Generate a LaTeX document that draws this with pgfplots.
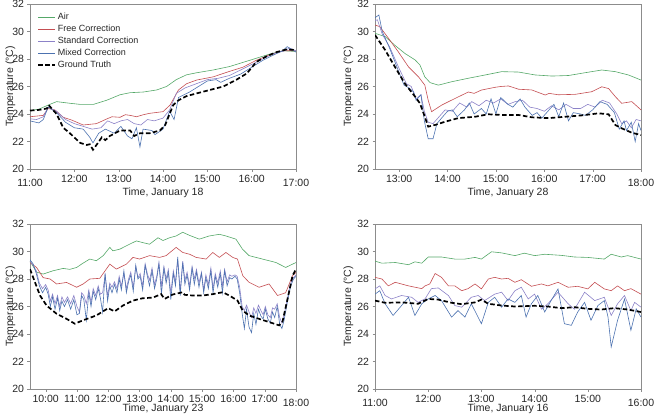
\documentclass[border=0pt]{standalone}
\usepackage{pgfplots}
\pgfplotsset{compat=1.18}
\usepackage{fontspec}
\setmainfont{Liberation Sans}
\definecolor{cair}{RGB}{85,168,104}
\definecolor{cfree}{RGB}{196,78,82}
\definecolor{cstd}{RGB}{140,130,200}
\definecolor{cmix}{RGB}{76,114,176}
\newcommand\lo[1]{\raisebox{-4pt}[\height][\depth]{#1}}
\pgfplotsset{
  panel/.style={
    width=266pt, height=165pt, scale only axis,
    ymin=20, ymax=32, ytick={20,22,...,32},
    axis line style={black!45}, tick style={black!45},
    tick align=outside, major tick length=2.5pt,
    tick pos=left,
    ticklabel style={font=\fontsize{10.5}{12}\selectfont, text=black!85},
    /pgf/number format/assume math mode=true,
    label style={font=\fontsize{10.5}{12}\selectfont, text=black!85},
    ylabel={Temperature (°C)},
    ylabel style={yshift=-3pt},
    xlabel style={yshift=1pt},
    anchor=south west,
  },
  leftpanel/.style={ylabel style={yshift=-7pt}},
  bottompanel/.style={xlabel style={yshift=4.5pt}},
  air/.style={cair, line width=0.6pt},
  free/.style={cfree, line width=0.6pt},
  std/.style={cstd, line width=0.6pt},
  mix/.style={cmix, line width=0.6pt},
  gt/.style={black, line width=1.7pt, dash pattern=on 4.5pt off 2.5pt},
}
\begin{document}
\begin{tikzpicture}
\useasboundingbox (0,0) rectangle (654pt,-415pt);
% Panel 1
\begin{axis}[panel, leftpanel, at={(30pt,-169pt)},
  xmin=11, xmax=17, xtick={11,...,17},
  xticklabels={\lo{11:00},12:00,13:00,14:00,15:00,16:00,\lo{17:00}},
  xlabel={Time, January 18},
  legend style={draw=none, fill=none, at={(0.015,0.97)}, anchor=north west,
    font=\fontsize{9}{10.5}\selectfont, row sep=0pt, text=black!85},
  legend cell align=left]
\addplot[air] coordinates {(11.0,24.25) (11.2,24.35) (11.41,24.65) (11.6,24.9) (11.9,24.78) (12.13,24.7) (12.43,24.7) (12.73,25.0) (13.03,25.4) (13.26,25.55) (13.56,25.6) (13.86,25.75) (14.08,26.0) (14.3,26.5) (14.53,26.85) (14.76,27.0) (15.13,27.2) (15.5,27.45) (15.8,27.75) (16.1,28.05) (16.4,28.35) (16.7,28.6) (17.0,28.55)};
\addlegendentry{Air}
\addplot[free] coordinates {(11.0,23.8) (11.15,23.85) (11.3,23.9) (11.41,24.4) (11.56,24.3) (11.75,23.76) (11.94,23.56) (12.2,23.2) (12.5,23.3) (12.73,23.64) (12.85,23.8) (13.03,23.76) (13.15,23.95) (13.26,23.9) (13.4,23.8) (13.56,23.95) (13.7,24.05) (14.0,24.17) (14.16,24.65) (14.35,25.75) (14.53,26.2) (14.76,26.47) (15.13,26.7) (15.5,27.1) (15.8,27.4) (16.1,27.9) (16.4,28.3) (16.7,28.6) (17.0,28.6)};
\addlegendentry{Free Correction}
\addplot[std] coordinates {(11.0,23.65) (11.15,23.6) (11.3,23.8) (11.41,24.5) (11.6,24.2) (11.8,23.6) (12.0,23.3) (12.2,23.1) (12.4,22.9) (12.6,23.0) (12.75,23.5) (12.9,23.3) (13.05,23.5) (13.2,23.6) (13.35,23.3) (13.5,23.2) (13.65,23.6) (13.8,23.5) (14.0,23.7) (14.15,24.3) (14.3,25.5) (14.5,25.9) (14.75,26.2) (15.0,26.5) (15.25,26.6) (15.5,26.8) (15.75,27.2) (16.0,27.6) (16.25,28.0) (16.5,28.4) (16.75,28.6) (16.85,28.8) (17.0,28.6)};
\addlegendentry{Standard Correction}
\addplot[mix] coordinates {(11.0,23.5) (11.2,23.35) (11.3,23.6) (11.41,24.5) (11.6,24.1) (11.8,23.4) (12.0,23.0) (12.2,22.9) (12.35,22.3) (12.42,21.9) (12.55,22.6) (12.7,22.9) (12.9,22.6) (13.05,23.1) (13.2,22.4) (13.3,22.2) (13.4,23.0) (13.48,21.6) (13.55,22.9) (13.75,22.8) (13.82,22.5) (14.0,22.9) (14.15,24.2) (14.25,23.6) (14.35,25.2) (14.6,25.6) (14.8,26.0) (15.0,26.4) (15.2,26.5) (15.3,26.3) (15.5,26.6) (15.75,26.9) (16.0,27.4) (16.25,27.9) (16.5,28.3) (16.7,28.6) (16.8,28.9) (17.0,28.5)};
\addlegendentry{Mixed Correction}
\addplot[gt] coordinates {(11.0,24.25) (11.2,24.3) (11.38,24.4) (11.42,24.65) (11.6,24.0) (11.75,23.0) (11.9,22.6) (12.13,21.9) (12.28,21.75) (12.35,21.8) (12.42,21.4) (12.5,21.75) (12.62,22.3) (12.7,22.1) (12.8,22.4) (13.03,22.8) (13.26,22.8) (13.35,22.4) (13.48,22.6) (13.7,22.6) (13.93,22.8) (14.05,23.2) (14.23,24.65) (14.35,25.0) (14.53,25.3) (14.76,25.5) (15.06,25.75) (15.36,26.0) (15.66,26.5) (15.89,26.95) (16.11,27.8) (16.34,28.2) (16.56,28.5) (16.79,28.7) (17.0,28.65)};
\addlegendentry{Ground Truth}
\end{axis}
% Panel 2
\begin{axis}[panel, at={(375pt,-169pt)},
  xmin=12.5, xmax=18, xtick={13,...,18},
  xticklabels={13:00,14:00,15:00,16:00,17:00,\lo{18:00}},
  xlabel={Time, January 28}]
\addplot[air] coordinates {(12.5,29.87) (12.71,29.63) (12.91,29.0) (13.12,28.4) (13.33,27.93) (13.43,27.56) (13.53,26.7) (13.64,26.28) (13.81,26.1) (14.09,26.35) (14.43,26.6) (14.78,26.84) (15.12,27.08) (15.47,27.05) (15.81,26.84) (16.16,26.76) (16.5,26.8) (16.84,27.0) (17.19,27.2) (17.47,27.08) (17.74,26.84) (18.0,26.47)};
\addplot[free] coordinates {(12.5,30.47) (12.6,30.35) (12.78,29.5) (12.98,28.53) (13.19,27.44) (13.4,26.7) (13.53,26.1) (13.6,25.0) (13.67,24.17) (13.88,24.65) (14.16,25.14) (14.43,25.6) (14.55,25.5) (14.7,25.74) (14.98,25.94) (15.1,26.0) (15.26,26.04) (15.47,25.8) (15.74,25.75) (16.02,25.38) (16.1,25.5) (16.29,25.4) (16.64,25.43) (16.98,25.62) (17.19,25.98) (17.33,25.85) (17.47,25.26) (17.6,24.78) (17.81,24.9) (18.0,24.3)};
\addplot[std] coordinates {(12.5,30.8) (12.55,30.85) (12.65,29.8) (12.8,28.9) (13.0,27.3) (13.15,26.2) (13.25,26.0) (13.35,25.1) (13.45,25.4) (13.52,24.2) (13.6,23.4) (13.7,23.3) (13.8,23.7) (13.95,24.3) (14.1,24.2) (14.25,24.8) (14.4,24.5) (14.5,24.9) (14.65,24.6) (14.8,25.0) (14.95,24.8) (15.1,25.1) (15.25,24.7) (15.4,24.9) (15.55,25.0) (15.7,24.5) (15.85,24.4) (16.0,24.2) (16.15,24.6) (16.3,24.3) (16.45,24.7) (16.6,24.4) (16.75,24.4) (16.9,24.7) (17.05,24.5) (17.2,25.0) (17.35,24.8) (17.5,24.0) (17.6,23.3) (17.7,23.5) (17.8,23.0) (17.9,23.6) (18.0,23.5)};
\addplot[mix] coordinates {(12.5,31.0) (12.58,31.2) (12.65,30.0) (12.8,28.8) (13.0,27.0) (13.1,26.1) (13.2,25.9) (13.3,25.6) (13.35,25.0) (13.45,25.4) (13.52,23.5) (13.6,22.2) (13.7,22.2) (13.78,23.3) (13.9,23.8) (14.0,24.2) (14.1,24.3) (14.2,23.8) (14.35,24.3) (14.45,24.8) (14.55,24.0) (14.7,24.4) (14.8,24.0) (14.9,25.1) (15.0,24.0) (15.1,25.2) (15.25,24.7) (15.35,24.5) (15.5,25.1) (15.6,24.5) (15.75,23.9) (15.85,24.1) (15.95,23.7) (16.05,24.1) (16.2,24.7) (16.3,23.8) (16.4,24.8) (16.5,23.5) (16.6,24.1) (16.75,24.0) (16.85,23.9) (17.0,24.3) (17.15,24.9) (17.3,24.7) (17.45,24.1) (17.55,22.9) (17.65,23.5) (17.7,22.8) (17.8,23.4) (17.88,22.0) (17.95,23.3) (18.0,22.8)};
\addplot[gt] coordinates {(12.5,29.75) (12.71,28.65) (12.91,27.44) (13.12,26.2) (13.33,25.26) (13.43,24.77) (13.53,23.8) (13.6,23.08) (13.74,23.2) (13.95,23.44) (14.22,23.7) (14.57,23.8) (14.84,23.98) (15.12,23.93) (15.47,23.93) (15.74,23.76) (16.09,23.7) (16.43,23.8) (16.78,23.9) (17.12,24.05) (17.33,23.98) (17.47,23.2) (17.6,22.96) (17.81,22.64) (18.0,22.47)};
\end{axis}
% Panel 3
\begin{axis}[panel, leftpanel, bottompanel, at={(30pt,-389pt)},
  xmin=9.5, xmax=18, xtick={10,...,18},
  xticklabels={10:00,11:00,12:00,13:00,14:00,15:00,16:00,17:00,\lo{18:00}},
  xlabel={Time, January 23}]
\addplot[air] coordinates {(9.5,29.3) (9.71,28.5) (9.92,28.36) (10.24,28.6) (10.56,28.77) (10.77,28.7) (10.99,28.84) (11.2,29.16) (11.41,29.45) (11.62,29.33) (11.84,29.7) (12.05,30.3) (12.15,30.05) (12.37,30.17) (12.68,30.53) (12.9,30.77) (13.1,30.65) (13.32,30.53) (13.59,31.0) (13.75,30.8) (13.96,31.0) (14.17,31.13) (14.38,31.4) (14.6,31.17) (14.91,30.9) (15.23,31.13) (15.55,31.25) (15.76,31.13) (16.08,30.9) (16.29,30.17) (16.5,29.7) (16.93,29.45) (17.36,29.2) (17.67,28.84) (18.0,29.2)};
\addplot[free] coordinates {(9.5,29.2) (9.71,28.84) (9.92,28.1) (10.14,28.0) (10.35,27.64) (10.67,27.75) (10.99,27.4) (11.2,27.64) (11.41,28.0) (11.73,28.05) (12.05,29.08) (12.26,28.72) (12.58,29.08) (12.79,29.57) (13.0,29.45) (13.32,29.7) (13.64,29.57) (13.85,29.7) (14.17,30.3) (14.38,29.93) (14.6,29.8) (14.81,29.57) (15.13,29.45) (15.34,29.93) (15.55,29.57) (15.76,29.93) (15.98,29.57) (16.13,29.45) (16.3,28.24) (16.5,27.76) (16.82,27.4) (17.14,27.64) (17.41,26.8) (17.67,27.0) (17.89,28.24) (18.0,28.48)};
\addplot[std] coordinates {(9.5,29.3) (9.6,29.0) (9.7,28.6) (9.8,27.7) (9.9,27.3) (10.0,27.6) (10.08,27.2) (10.15,26.4) (10.22,26.9) (10.3,26.2) (10.38,26.8) (10.45,26.0) (10.52,26.7) (10.6,26.3) (10.7,26.7) (10.8,26.2) (10.9,26.8) (11.0,26.0) (11.08,25.6) (11.15,27.0) (11.22,26.8) (11.3,26.2) (11.38,27.2) (11.45,26.3) (11.52,27.3) (11.6,26.8) (11.68,27.5) (11.75,26.9) (11.82,27.0) (11.9,28.3) (11.98,26.8) (12.05,27.7) (12.12,27.4) (12.2,27.8) (12.28,27.3) (12.35,28.2) (12.42,27.5) (12.5,28.4) (12.58,27.3) (12.65,28.0) (12.72,28.5) (12.8,27.4) (12.88,28.9) (12.95,28.1) (13.02,28.4) (13.1,27.5) (13.18,29.1) (13.25,28.4) (13.32,27.9) (13.4,28.8) (13.48,27.6) (13.55,28.2) (13.62,29.2) (13.7,27.5) (13.78,28.9) (13.85,28.0) (13.92,28.7) (14.0,27.0) (14.08,28.6) (14.15,27.8) (14.22,29.4) (14.3,27.1) (14.38,29.3) (14.45,27.9) (14.52,28.5) (14.6,27.5) (14.68,28.9) (14.75,28.0) (14.82,28.7) (14.9,27.7) (14.98,28.5) (15.05,27.2) (15.12,28.3) (15.2,27.6) (15.28,28.8) (15.35,27.3) (15.42,28.4) (15.5,27.7) (15.58,28.6) (15.65,27.5) (15.72,28.7) (15.8,27.8) (15.88,28.3) (15.95,28.2) (16.05,28.3) (16.12,28.2) (16.2,27.4) (16.28,26.0) (16.35,25.7) (16.42,26.1) (16.5,25.6) (16.58,25.2) (16.65,25.9) (16.72,25.5) (16.8,26.1) (16.88,25.7) (16.95,25.4) (17.02,26.0) (17.1,25.4) (17.18,25.2) (17.25,25.9) (17.32,25.8) (17.4,26.2) (17.48,25.2) (17.55,24.8) (17.62,25.4) (17.7,26.3) (17.78,27.2) (17.85,27.8) (17.92,28.1) (18.0,28.3)};
\addplot[mix] coordinates {(9.5,29.4) (9.6,29.1) (9.7,28.4) (9.8,27.5) (9.9,27.0) (10.0,27.4) (10.08,26.9) (10.15,26.0) (10.22,26.7) (10.3,25.8) (10.38,26.6) (10.45,25.7) (10.52,26.4) (10.6,26.0) (10.7,26.5) (10.8,25.8) (10.9,26.5) (11.0,25.4) (11.08,25.5) (11.15,26.8) (11.22,26.5) (11.3,25.0) (11.38,27.0) (11.45,26.0) (11.52,27.1) (11.6,26.5) (11.68,27.3) (11.75,26.6) (11.82,25.6) (11.9,28.4) (11.98,26.4) (12.05,27.5) (12.12,27.0) (12.2,27.6) (12.28,27.0) (12.35,28.0) (12.42,27.2) (12.5,28.6) (12.58,27.0) (12.65,27.8) (12.72,28.3) (12.8,27.1) (12.88,29.0) (12.95,28.0) (13.02,28.2) (13.1,27.2) (13.18,29.0) (13.25,28.2) (13.32,27.5) (13.4,28.6) (13.48,27.3) (13.55,28.0) (13.62,29.1) (13.7,26.9) (13.78,28.8) (13.85,27.7) (13.92,28.5) (14.0,26.5) (14.08,28.4) (14.15,27.5) (14.22,29.6) (14.3,26.8) (14.38,29.2) (14.45,27.6) (14.52,28.3) (14.6,27.2) (14.68,28.8) (14.75,27.6) (14.82,28.5) (14.9,27.4) (14.98,28.4) (15.05,27.0) (15.12,28.1) (15.2,27.3) (15.28,28.6) (15.35,27.0) (15.42,28.2) (15.5,27.4) (15.58,28.4) (15.65,27.0) (15.72,28.6) (15.8,27.5) (15.88,28.1) (15.95,28.0) (16.05,28.2) (16.12,28.0) (16.2,27.0) (16.28,25.5) (16.35,24.4) (16.42,25.8) (16.5,24.5) (16.58,24.1) (16.65,25.5) (16.72,24.7) (16.8,25.8) (16.88,25.3) (16.95,25.1) (17.02,25.8) (17.1,25.1) (17.18,24.8) (17.25,25.6) (17.32,25.2) (17.4,26.0) (17.48,24.7) (17.55,24.4) (17.62,25.0) (17.7,26.0) (17.78,27.0) (17.85,27.6) (17.92,28.0) (18.0,28.2)};
\addplot[gt] coordinates {(9.5,28.72) (9.66,27.76) (9.82,26.8) (10.03,26.07) (10.35,25.47) (10.67,25.1) (10.93,24.75) (11.2,25.0) (11.62,25.35) (12.0,25.88) (12.2,25.64) (12.47,26.07) (12.79,26.43) (13.1,26.6) (13.43,26.65) (13.69,26.9) (13.8,26.55) (14.06,26.87) (14.38,27.04) (14.44,26.85) (14.7,26.8) (15.02,26.8) (15.34,26.9) (15.66,27.04) (15.87,26.8) (16.13,26.43) (16.3,25.7) (16.5,25.35) (16.82,25.1) (17.14,24.87) (17.46,24.63) (17.57,24.9) (17.73,26.55) (17.89,28.24) (18.0,28.72)};
\end{axis}
% Panel 4
\begin{axis}[panel, bottompanel, at={(375pt,-389pt)},
  xmin=11, xmax=16, xtick={11,...,16},
  xticklabels={\lo{11:00},12:00,13:00,14:00,15:00,\lo{16:00}},
  xlabel={Time, January 16}]
\addplot[air] coordinates {(11.0,29.3) (11.13,29.15) (11.38,29.2) (11.63,29.04) (11.75,29.25) (11.88,29.15) (12.0,29.6) (12.25,29.6) (12.5,29.45) (12.69,29.45) (12.88,29.57) (13.0,29.45) (13.19,29.98) (13.38,29.9) (13.63,29.7) (13.81,29.88) (14.0,29.7) (14.19,29.8) (14.5,29.72) (14.75,29.6) (15.0,29.57) (15.31,29.45) (15.44,29.8) (15.63,29.6) (15.75,29.7) (16.0,29.45)};
\addplot[free] coordinates {(11.0,28.12) (11.13,28.0) (11.25,27.5) (11.38,27.76) (11.63,27.5) (11.88,27.3) (11.94,27.5) (12.03,27.64) (12.13,28.4) (12.25,28.12) (12.38,27.5) (12.5,27.5) (12.63,27.15) (12.75,27.3) (12.88,27.64) (13.0,27.28) (13.13,28.0) (13.25,28.12) (13.38,28.0) (13.5,28.05) (13.63,27.76) (13.75,27.95) (13.94,27.47) (14.13,27.64) (14.25,27.5) (14.44,27.76) (14.63,27.4) (14.81,27.47) (15.0,27.28) (15.13,27.76) (15.31,27.28) (15.44,27.15) (15.56,27.5) (15.69,27.15) (15.81,27.3) (16.0,26.9)};
\addplot[std] coordinates {(11.0,27.28) (11.09,27.5) (11.19,26.8) (11.31,26.55) (11.5,26.8) (11.69,26.67) (11.81,26.3) (11.94,26.55) (12.06,27.3) (12.19,27.35) (12.38,26.8) (12.5,26.07) (12.63,25.95) (12.81,26.67) (12.94,26.8) (13.06,26.43) (13.25,26.9) (13.38,27.04) (13.5,26.43) (13.63,27.15) (13.75,27.4) (13.88,26.55) (14.0,26.9) (14.13,25.8) (14.25,26.2) (14.44,27.04) (14.63,26.2) (14.75,25.8) (14.94,27.04) (15.13,26.43) (15.31,26.67) (15.44,25.35) (15.56,26.2) (15.69,26.8) (15.81,25.7) (15.88,26.3) (16.0,25.95)};
\addplot[mix] coordinates {(11.0,26.9) (11.09,27.15) (11.19,26.2) (11.34,25.35) (11.5,26.07) (11.63,26.67) (11.75,25.35) (11.88,26.2) (12.0,26.55) (12.13,26.8) (12.25,26.43) (12.44,25.23) (12.56,25.7) (12.69,25.23) (12.81,26.2) (13.0,24.75) (13.13,26.3) (13.25,26.67) (13.38,25.95) (13.5,26.55) (13.63,26.3) (13.75,26.8) (13.84,25.23) (13.94,26.2) (14.06,26.8) (14.19,25.6) (14.31,26.43) (14.44,27.28) (14.56,24.75) (14.69,24.63) (14.81,25.6) (14.94,26.3) (15.06,25.0) (15.19,26.07) (15.31,26.43) (15.38,25.23) (15.44,23.06) (15.56,25.0) (15.69,26.55) (15.81,24.27) (15.91,25.83) (16.0,25.23)};
\addplot[gt] coordinates {(11.0,26.43) (11.19,26.27) (11.5,26.3) (11.81,26.2) (12.0,26.55) (12.19,26.5) (12.44,26.27) (12.63,26.17) (12.88,26.3) (13.0,26.5) (13.13,26.2) (13.38,26.07) (13.63,26.0) (14.0,26.05) (14.25,26.0) (14.5,25.88) (14.75,25.95) (15.0,25.83) (15.25,25.78) (15.5,25.88) (15.75,25.78) (16.0,25.6)};
\end{axis}
\end{tikzpicture}
\end{document}
